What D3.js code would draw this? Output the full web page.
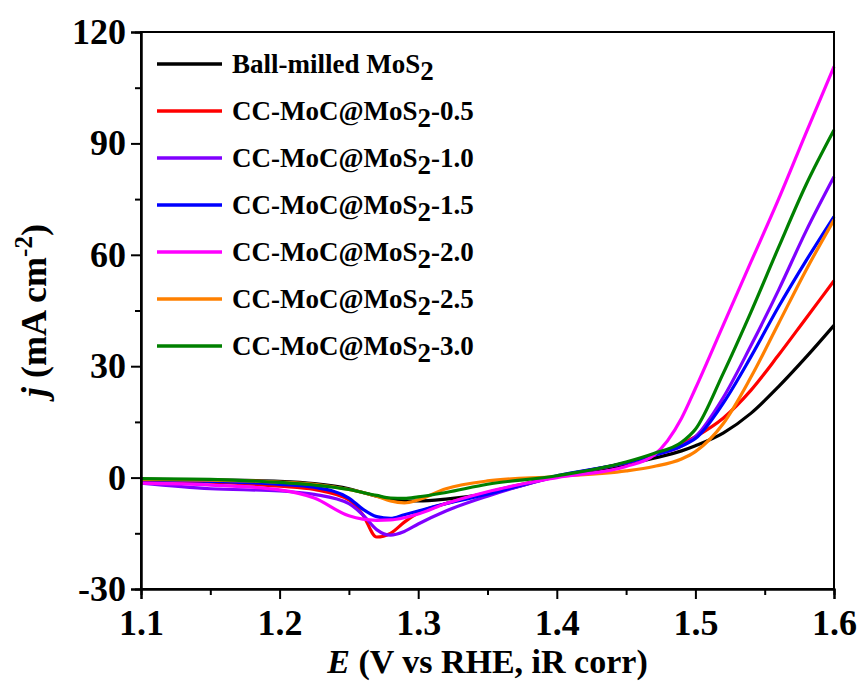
<html>
<head>
<meta charset="utf-8">
<style>
    body { margin: 0; background: #fff; }
    svg { display: block; }
    text { font-family: "Liberation Serif", "Times New Roman", serif; font-weight: bold; }
</style>
</head>
<body>
<script src="https://d3js.org/d3.v7.min.js"></script>
<script>
    // potential grid (V vs RHE) and current density for each sample (mA cm-2)
    const potential = [1.10, 1.15, 1.20, 1.225, 1.25, 1.26, 1.27, 1.28, 1.29, 1.30, 1.32, 1.35, 1.40, 1.45, 1.47, 1.49, 1.50, 1.52, 1.54, 1.56, 1.58, 1.60];
    const ballMilled = [-0.5, -0.6, -1.0, -1.6, -3.0, -4.0, -5.0, -5.8, -6.3, -6.3, -5.8, -4.3, 0.3, 3.5, 5.2, 7.2, 8.6, 12.0, 17.3, 24.5, 32.5, 41.0];
    const cc05 = [-0.8, -1.2, -2.3, -3.2, -6.0, -10.0, -16.0, -15.0, -12.0, -9.5, -7.0, -4.0, 0.3, 4.0, 6.0, 9.0, 11.0, 16.0, 23.5, 33.0, 43.0, 53.0];
    const cc10 = [-1.5, -3.0, -3.6, -4.5, -7.0, -10.0, -14.0, -15.5, -14.5, -12.5, -9.0, -5.0, 0.3, 4.0, 6.0, 8.5, 11.0, 21.5, 35.5, 50.5, 66.5, 81.0];
    const cc15 = [-0.6, -1.0, -1.8, -2.6, -5.5, -8.5, -10.5, -11.0, -10.0, -9.0, -7.0, -4.5, 0.5, 4.0, 6.0, 8.5, 10.5, 20.0, 32.5, 46.0, 58.5, 70.3];
    const cc20 = [-1.5, -2.0, -3.3, -5.5, -10.3, -11.2, -11.5, -11.4, -10.8, -9.8, -7.0, -3.8, 0.0, 3.0, 6.0, 16.0, 24.0, 41.0, 58.0, 75.0, 93.0, 110.7];
    const cc25 = [-0.5, -0.7, -1.2, -1.8, -3.2, -4.0, -5.0, -6.3, -6.8, -6.0, -3.0, -0.9, 0.3, 1.8, 3.0, 5.0, 7.0, 14.5, 27.0, 41.5, 56.0, 69.4];
    const cc30 = [-0.3, -0.5, -1.3, -2.0, -3.2, -4.0, -4.8, -5.5, -5.6, -5.2, -4.0, -1.8, 0.5, 4.2, 6.5, 9.5, 13.0, 28.0, 44.5, 62.0, 79.0, 93.6];

    const seriesNames = ["Ball-milled MoS", "CC-MoC@MoS", "CC-MoC@MoS", "CC-MoC@MoS", "CC-MoC@MoS", "CC-MoC@MoS", "CC-MoC@MoS"];
    const seriesSuffix = ["", "-0.5", "-1.0", "-1.5", "-2.0", "-2.5", "-3.0"];
    const seriesColors = ["#000000", "#ff0000", "#8000ff", "#0000ff", "#ff00ff", "#ff8000", "#008000"];
    const seriesValues = [ballMilled, cc05, cc10, cc15, cc20, cc25, cc30];

    const xTicks = [1.1, 1.2, 1.3, 1.4, 1.5, 1.6];
    const xMinor = [1.15, 1.25, 1.35, 1.45, 1.55];
    const yTicks = [-30, 0, 30, 60, 90, 120];
    const yMinor = [-15, 15, 45, 75, 105];

    const width = 862, height = 682;
    const m = { left: 141, right: 834, top: 32, bottom: 589 };

    const svg = d3.select("body").append("svg")
        .attr("width", width)
        .attr("height", height);

    const x = d3.scaleLinear().domain([1.1, 1.6]).range([m.left, m.right]);
    const y = d3.scaleLinear().domain([-30, 120]).range([m.bottom, m.top]);

    // curves
    const line = d3.line()
        .x((d, i) => x(potential[i]))
        .y(d => y(d))
        .curve(d3.curveMonotoneX);

    // draw order so magenta/green sit on top like the original
    const drawOrder = [0, 1, 2, 3, 5, 4, 6];
    drawOrder.forEach(k => {
        svg.append("path")
            .datum(seriesValues[k])
            .attr("fill", "none")
            .attr("stroke", seriesColors[k])
            .attr("stroke-width", 3.2)
            .attr("d", line);
    });

    // frame
    svg.append("rect")
        .attr("x", m.left).attr("y", m.top)
        .attr("width", m.right - m.left).attr("height", m.bottom - m.top)
        .attr("fill", "none").attr("stroke", "#000").attr("stroke-width", 2);

    // axes
    svg.append("g")
        .attr("transform", "translate(0," + m.bottom + ")")
        .call(d3.axisBottom(x).tickValues(xTicks).tickFormat(d3.format(".1f")).tickSize(10).tickPadding(10));
    svg.append("g")
        .attr("transform", "translate(0," + m.bottom + ")")
        .call(d3.axisBottom(x).tickValues(xMinor).tickFormat("").tickSize(6));

    svg.append("g")
        .attr("transform", "translate(" + m.left + ",0)")
        .call(d3.axisLeft(y).tickValues(yTicks).tickFormat(d => String(d)).tickSize(10).tickPadding(5));
    svg.append("g")
        .attr("transform", "translate(" + m.left + ",0)")
        .call(d3.axisLeft(y).tickValues(yMinor).tickFormat("").tickSize(6));

    svg.selectAll(".domain").attr("stroke-width", 2);
    svg.selectAll(".tick line").attr("stroke-width", 2);
    svg.selectAll(".tick text")
        .attr("font-family", "Liberation Serif")
        .attr("font-weight", "bold")
        .attr("font-size", 36)
        .attr("fill", "#000");

    // axis titles
    const xt = svg.append("text")
        .attr("x", (m.left + m.right) / 2)
        .attr("y", 673)
        .attr("text-anchor", "middle")
        .attr("font-size", 34);
    xt.append("tspan").attr("font-style", "italic").text("E");
    xt.append("tspan").text(" (V vs RHE, iR corr)");

    const yt = svg.append("text")
        .attr("transform", "translate(46," + ((m.top + m.bottom) / 2) + ") rotate(-90)")
        .attr("text-anchor", "middle")
        .attr("font-size", 36);
    yt.append("tspan").attr("font-style", "italic").text("j");
    yt.append("tspan").text(" (mA cm");
    yt.append("tspan").attr("font-size", 25).attr("dy", -14).text("-2");
    yt.append("tspan").attr("dy", 14).text(")");

    // legend
    const legend = svg.append("g");
    seriesNames.forEach((name, i) => {
        const ly = 64 + i * 47;
        legend.append("line")
            .attr("x1", 157).attr("x2", 222)
            .attr("y1", ly).attr("y2", ly)
            .attr("stroke", seriesColors[i])
            .attr("stroke-width", 3.5);
        const t = legend.append("text")
            .attr("x", 232)
            .attr("y", ly + 9)
            .attr("font-size", 27);
        t.append("tspan").text(name);
        t.append("tspan").attr("dy", 7).text("2");
        if (seriesSuffix[i]) t.append("tspan").attr("dy", -7).text(seriesSuffix[i]);
    });
</script>
</body>
</html>
